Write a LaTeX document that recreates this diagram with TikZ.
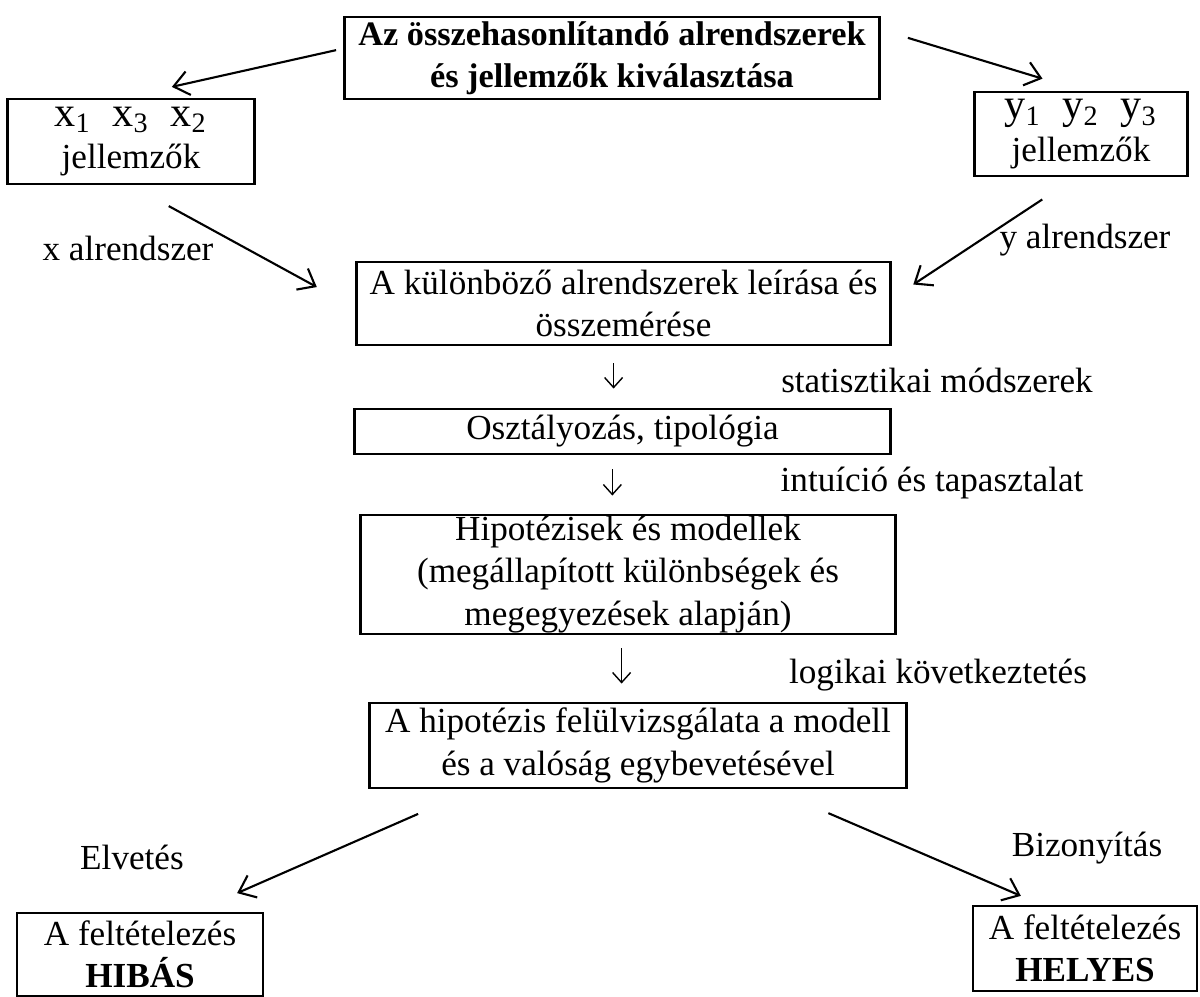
\documentclass[tikz,border=0pt]{standalone}
\usepackage{fontspec}
\setmainfont{Liberation Serif}
\usetikzlibrary{arrows.meta}
\tikzset{box/.style={draw,thick,inner sep=0pt,align=center,font=\fontsize{10}{12}\selectfont},
         bbox/.style={box,font=\fontsize{9.75}{12}\selectfont\bfseries},
         note/.style={inner sep=0pt,font=\fontsize{10}{12}\selectfont},
         arr/.style={semithick,-{Straight Barb[length=1.5mm,width=2.4mm]}},
         down/.style={thin,-{Straight Barb[length=1mm,width=1.8mm]}},
        }
\begin{document}
\begin{tikzpicture}[x=0.01cm,y=-0.01cm]
        \useasboundingbox (0,0) rectangle (1200,997);

        \node[bbox,minimum width=5.35cm,minimum height=0.82cm](top)at(612,58){Az összehasonlítandó alrendszerek\\és jellemzők kiválasztása};
        \node[box,minimum width=2.47cm,minimum height=0.85cm](xbox)at(131,141.5){{\large x\textsubscript{1}\enspace x\textsubscript{3}\enspace x\textsubscript{2}}\\jellemzők};
        \node[box,minimum width=2.13cm,minimum height=0.84cm](ybox)at(1081,134){{\large y\textsubscript{1}\enspace y\textsubscript{2}\enspace y\textsubscript{3}}\\jellemzők};

        \draw[arr,shorten <=0.07cm,shorten >=0.49cm](top.178)--(xbox.99);
        \draw[arr,shorten <=0.28cm,shorten >=0.41cm](top.6)--(ybox.89);

        \node[note](xsub)at(128,248){x alrendszer};
        \node[note](ysub)at(1085,240){y alrendszer};
        \node[box,minimum width=5.33cm,minimum height=0.83cm](b1)at(623.5,303.5){A különböző alrendszerek leírása és\\összemérése};

        \draw[arr,shorten <=0.43cm,shorten >=0.44cm](xbox.270)--(b1.181);
        \draw[arr,shorten <=0.40cm,shorten >=0.26cm](ybox.263)--(b1.1);

        \node[box,minimum width=5.35cm,minimum height=0.45cm](b2)at(622.5,431.5){Osztályozás, tipológia};
        \node[box,minimum width=5.34cm,minimum height=1.19cm](b3)at(628,574.5){Hipotézisek és modellek\\(megállapított különbségek és\\megegyezések alapján)};
        \node[box,minimum width=5.36cm,minimum height=0.85cm](b4)at(638,745.5){A hipotézis felülvizsgálata a modell\\és a valóság egybevetésével};

        \node[note](stat)at(937,380){statisztikai módszerek};
        \node[note](intu)at(932,483){intuíció és tapasztalat};
        \node[note](logi)at(938,675){logikai következtetés};

        \draw[down,shorten <=0.17cm,shorten >=0.19cm](b1.257)--(b1.257|-b2.north);
        \draw[down,shorten <=0.14cm,shorten >=0.18cm](b2.247)--(b2.247|-b3.north);
        \draw[down,shorten <=0.13cm,shorten >=0.18cm](b3.264)--(b3.264|-b4.north);

        \node[note](elv)at(132,857){Elvetés};
        \node[note](biz)at(1087,848){Bizonyítás};
        \node[box,minimum width=2.46cm,minimum height=0.83cm](hib)at(140,954.5){A feltételezés\\\textbf{HIBÁS}};
        \node[box,minimum width=2.24cm,minimum height=0.85cm](hely)at(1085,948.5){A feltételezés\\\textbf{HELYES}};

        \draw[arr,shorten <=0.61cm,shorten >=0.46cm](b4.195.6)--(hib.38);
        \draw[arr,shorten <=0.60cm,shorten >=0.22cm](b4.342.4)--(hely.135);
    \end{tikzpicture}
\end{document}
